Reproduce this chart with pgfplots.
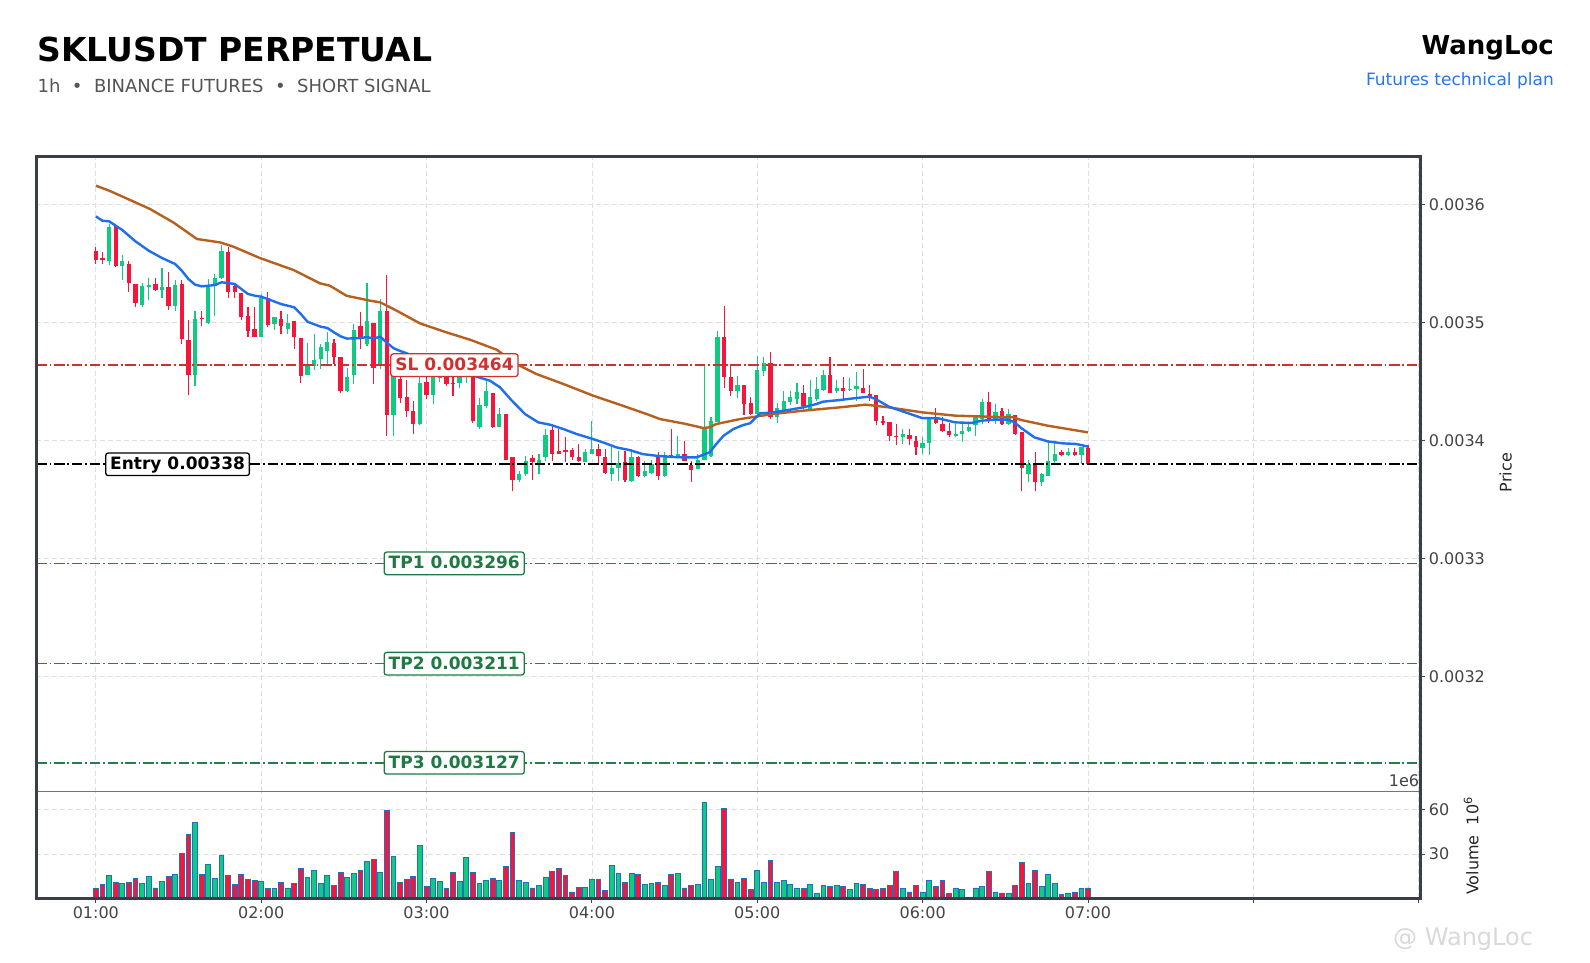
\documentclass[border=0pt]{standalone}
\usepackage{fontspec}
\setmainfont{DejaVu Sans}
\usepackage{pgfplots}
\pgfplotsset{compat=1.18}
\usepackage{pgfplotstable}

\definecolor{cup}{RGB}{14,203,129}
\definecolor{cdn}{RGB}{246,22,60}
\definecolor{vedge}{RGB}{35,110,190}
\definecolor{emafast}{RGB}{30,110,240}
\definecolor{emaslow}{RGB}{185,95,30}
\definecolor{slc}{RGB}{210,48,48}
\definecolor{tpc}{RGB}{30,122,66}
\definecolor{tpl}{RGB}{40,125,75}
\definecolor{framec}{RGB}{58,62,70}
\definecolor{tickc}{RGB}{68,68,68}
\definecolor{subc}{RGB}{85,85,85}
\definecolor{bluec}{RGB}{38,118,232}

% green (up) candles: index open high low close volume(1e6)
\pgfplotstableread{
i o h l c v
2 3552 3584 3549 3581 15.2
4 3548 3557 3536 3552 9.8
7 3515 3534 3513 3531 9.8
8 3530 3538 3519 3532 14.5
10 3528 3546 3521 3530 11.4
12 3514 3536 3510 3532 15.9
15 3456 3510 3446 3503 51.4
17 3500 3537 3499 3531 22.7
18 3531 3541 3506 3538 13.2
19 3538 3566 3537 3561 28.9
25 3488 3524 3488 3521 11.1
27 3499 3505 3494 3505 6.4
29 3495 3507 3490 3500 7.0
32 3456 3483 3456 3464 13.9
33 3463 3490 3460 3468 18.6
34 3469 3482 3461 3479 9.8
35 3476 3492 3465 3484 15.2
38 3442 3462 3441 3454 13.9
39 3456 3499 3448 3494 16.6
41 3482 3534 3480 3501 24.8
43 3465 3520 3461 3510 17.3
45 3422 3466 3404 3455 28.2
49 3414 3455 3413 3449 35.7
51 3439 3462 3431 3454 13.2
52 3453 3463 3450 3455 11.1
55 3449 3457 3445 3455 11.1
56 3454 3456 3449 3455 27.5
58 3412 3436 3410 3430 9.8
59 3429 3451 3428 3442 11.8
61 3412 3428 3412 3423 11.8
64 3367 3374 3365 3372 11.8
65 3372 3387 3370 3383 10.5
67 3380 3389 3372 3384 8.4
68 3386 3410 3383 3405 13.9
74 3382 3393 3382 3390 7.5
75 3389 3417 3389 3393 13.0
78 3372 3395 3366 3377 22.0
79 3377 3391 3366 3381 16.6
81 3366 3393 3365 3386 16.6
83 3370 3383 3369 3374 9.1
84 3373 3384 3372 3380 9.8
86 3370 3390 3369 3388 8.4
88 3386 3404 3385 3389 16.6
91 3376 3389 3376 3384 9.1
92 3384 3463 3384 3410 65.0
93 3387 3420 3386 3417 12.5
94 3416 3493 3416 3488 21.4
97 3442 3455 3436 3447 10.5
100 3423 3472 3422 3460 18.6
101 3459 3471 3455 3466 10.5
103 3420 3432 3415 3428 10.5
104 3425 3442 3424 3434 11.8
105 3433 3442 3430 3437 9.1
106 3435 3449 3431 3441 6.4
108 3427 3451 3426 3437 9.1
109 3435 3454 3434 3444 3.0
110 3443 3460 3442 3456 8.4
112 3442 3451 3440 3445 8.4
114 3443 3453 3442 3444 5.7
115 3444 3458 3434 3446 9.8
122 3403 3410 3397 3406 6.4
125 3394 3403 3389 3398 4.3
126 3398 3420 3388 3418 11.8
130 3404 3414 3403 3406 7.0
131 3406 3414 3399 3408 5.7
132 3408 3414 3407 3412 0.9
133 3413 3421 3404 3420 7.0
134 3418 3435 3414 3433 7.7
136 3417 3431 3414 3424 4.3
138 3414 3427 3413 3423 3.0
141 3372 3384 3365 3380 9.8
143 3365 3373 3362 3372 7.7
144 3370 3399 3370 3383 15.9
145 3383 3399 3381 3389 9.8
147 3388 3394 3387 3390 3.6
149 3388 3395 3380 3395 6.4
}\up

% red (down) candles
\pgfplotstableread{
i o h l c v
0 3561 3564 3550 3553 6.4
1 3555 3560 3550 3553 9.1
3 3582 3584 3547 3548 10.5
5 3550 3552 3526 3534 10.5
6 3533 3533 3513 3517 13.2
9 3533 3538 3527 3528 7.0
11 3530 3543 3511 3514 14.5
13 3533 3536 3482 3486 30.2
14 3485 3502 3439 3456 43.2
16 3504 3510 3497 3503 15.9
20 3560 3564 3521 3526 15.2
21 3531 3534 3521 3526 9.1
22 3525 3525 3502 3505 15.9
23 3506 3513 3488 3493 12.5
24 3495 3513 3488 3488 11.8
26 3521 3526 3496 3498 6.4
28 3503 3510 3490 3497 10.5
30 3501 3501 3478 3488 9.8
31 3487 3487 3449 3455 20.0
36 3483 3486 3465 3471 8.4
37 3471 3471 3440 3442 17.3
40 3497 3509 3478 3486 18.6
42 3500 3500 3448 3462 26.1
44 3510 3540 3404 3422 59.6
46 3452 3458 3432 3436 10.5
47 3437 3451 3420 3425 12.5
48 3425 3434 3406 3414 14.5
50 3450 3455 3435 3439 7.7
53 3455 3457 3446 3448 6.4
54 3449 3455 3438 3448 17.3
57 3455 3456 3415 3417 17.3
60 3440 3440 3411 3412 13.2
62 3423 3423 3384 3384 21.4
63 3386 3386 3357 3367 44.5
66 3385 3388 3367 3382 7.0
69 3409 3414 3383 3389 18.0
70 3391 3410 3389 3389 20.0
71 3392 3403 3382 3390 15.2
72 3392 3394 3384 3386 4.3
73 3386 3397 3382 3383 7.5
76 3393 3397 3380 3387 12.5
77 3386 3393 3372 3373 5.0
80 3382 3391 3365 3367 10.5
82 3386 3387 3369 3370 15.9
85 3386 3390 3367 3370 10.5
87 3388 3410 3386 3386 15.9
89 3389 3400 3383 3383 7.0
90 3379 3383 3365 3375 8.4
95 3488 3514 3445 3454 60.9
96 3454 3465 3438 3442 12.5
98 3447 3447 3422 3431 13.2
99 3432 3437 3422 3423 5.7
102 3466 3475 3418 3420 25.5
107 3440 3447 3427 3429 6.4
111 3456 3471 3440 3440 7.7
113 3445 3454 3434 3442 7.7
116 3445 3461 3440 3440 9.1
117 3439 3447 3434 3438 6.4
118 3439 3439 3413 3417 5.7
119 3417 3421 3413 3415 6.4
120 3416 3416 3400 3404 8.4
121 3404 3414 3396 3403 18.0
123 3405 3410 3396 3401 4.3
124 3400 3404 3388 3395 8.4
127 3418 3428 3414 3415 7.7
128 3414 3420 3407 3408 11.8
129 3408 3415 3403 3405 3.0
135 3433 3441 3415 3418 18.0
137 3425 3428 3413 3414 3.6
139 3422 3422 3405 3406 8.4
140 3407 3407 3357 3377 24.1
142 3380 3390 3357 3365 18.6
146 3390 3392 3387 3388 2.3
148 3390 3394 3387 3388 4.3
150 3394 3396 3380 3380 7.0
}\dn

% fast EMA (blue)
\pgfplotstableread{
i p
0 3590.1
1 3586.4
2 3585.9
4 3578.5
6 3568.9
8 3561
10 3554.8
12 3549.7
13 3544
14 3537
15 3532.2
16 3530.8
17 3531.3
18 3531.9
19 3534.2
20 3533.6
21 3532.8
22 3528.5
23 3524.3
24 3522.9
25 3522
26 3520
28 3515.8
30 3513
31 3507.3
32 3500.8
34 3496.6
35 3495.5
36 3491.8
37 3488.4
38 3486.5
40 3487
41 3487.8
42 3486.5
43 3488.2
44 3483
45 3478.4
46 3476
48 3472
50 3468
52 3464
54 3460
56 3456.5
57.1 3455
59.6 3450.8
61.1 3445.2
62.9 3433.9
64.9 3422.5
66.9 3415.5
68.7 3413.5
70.7 3409.8
72.7 3405.6
74.7 3402.2
76.7 3398.5
78.7 3394.3
80.7 3392
82.7 3388.6
84.8 3387.2
86.8 3386.3
88.8 3385.8
90.8 3385.8
92.8 3390.1
93.8 3397.1
94.9 3404.2
96.4 3409.9
97.9 3413.3
98.9 3414.7
100.4 3423.1
102.4 3424
104.9 3426.2
106.9 3428.2
108.9 3431
109.9 3433
112.4 3434.4
114.9 3436.1
116.9 3437.3
117.9 3435.3
119.9 3428.8
122.4 3424
124.9 3419.2
127.4 3418.9
129.9 3415.5
132.4 3415
133.9 3416.9
135.9 3417.8
137.9 3417.8
138.9 3415.5
139.9 3410.7
141.9 3402.8
143.9 3399.4
146.2 3397.7
148.2 3397.2
150 3395
}\emaf

% slow EMA (brown)
\pgfplotstableread{
i p
0 3616.1
2 3611.9
5.2 3603.9
8.2 3596.3
11.7 3585
15.3 3570.9
18.8 3568
20.8 3564.4
24.8 3554.8
29.9 3544.6
33.9 3533.3
35.4 3531.3
37.9 3522.8
41.5 3518.6
43 3517.2
45.5 3510.1
49 3499.4
53 3491.8
56.6 3485.5
60.6 3477.1
63.6 3464.9
66.6 3456.5
70.7 3448
75.2 3438.1
79.2 3430.5
83.3 3422.5
85.3 3418.3
88.8 3414.6
90.5 3412.5
91.8 3410.7
92.8 3411.3
93.8 3414.1
97.4 3418.3
102.4 3422.6
106.9 3425.4
112.4 3428.2
116.4 3430.5
119.9 3428.2
124.9 3424
129.9 3421.2
134.9 3420.3
138.7 3419.8
139.9 3417.5
143.9 3412.7
150 3407
}\emas

\pgfplotsset{
  panel/.style={
    scale only axis, anchor=south west, width=1384.4pt,
    xmin=-9, xmax=200.3, xtick={0,25,...,200},
    grid=major,
    grid style={line width=0.8pt, draw=black!13, dash pattern=on 5pt off 3pt},
    axis line style={line width=1pt, draw=black!55},
    tick align=outside, ytick pos=right, yticklabel pos=right,
    tick style={line width=0.9pt, draw=tickc},
    major tick length=4.7pt,
    ticklabel style={font=\fontsize{16}{16}\selectfont, text=tickc},
  },
  wick/.style={draw=none, mark=none, forget plot,
    error bars/.cd, y dir=plus, y explicit, error mark=none,
    error bar style={draw=#1, solid, line width=1.1pt}},
  body/.style={draw=none, mark=none, forget plot,
    error bars/.cd, y dir=plus, y explicit, error mark=none,
    error bar style={draw=#1, solid, line width=4.3pt}},
  lvl/.style={line width=1.6pt, dash pattern=on 10.5pt off 2.8pt on 1.7pt off 2.8pt, forget plot},
}
\tikzset{
  lbl/.style={anchor=west, fill=white, line width=1.3pt, rounded corners=2.5pt,
    inner xsep=4.5pt, inner ysep=4.3pt, text height=12.4pt, text depth=1.6pt,
    font=\bfseries\fontsize{17}{17}\selectfont},
}

\begin{document}
\begin{tikzpicture}
\path[use as bounding box, fill=white] (0,0) rectangle (1590pt,962pt);

% ---------- price panel ----------
\begin{axis}[panel, at={(36.3pt,170.3pt)}, height=635.4pt,
  ymin=3102.5, ymax=3641,
  ytick={3200,3300,3400,3500,3600},
  yticklabels={0.0032,0.0033,0.0034,0.0035,0.0036},
  xticklabels={}, xtick style={draw=none}]
\addplot[wick=cup] table[x=i, y=l, y error plus expr={\thisrow{h}-\thisrow{l}}] {\up};
\addplot[body=cup] table[x=i, y=o, y error plus expr={max(\thisrow{c}-\thisrow{o},1.2)}] {\up};
\addplot[wick=cdn] table[x=i, y=l, y error plus expr={\thisrow{h}-\thisrow{l}}] {\dn};
\addplot[body=cdn] table[x=i, y=c, y error plus expr={max(\thisrow{o}-\thisrow{c},1.2)}] {\dn};

\addplot[lvl, slc] coordinates {(-9,3464) (200.3,3464)};
\addplot[lvl, black] coordinates {(-9,3380) (200.3,3380)};
\addplot[lvl, tpl] coordinates {(-9,3296) (200.3,3296)};
\addplot[lvl, tpl] coordinates {(-9,3211) (200.3,3211)};
\addplot[lvl, tpl] coordinates {(-9,3127) (200.3,3127)};

\addplot[emaslow, line width=2.4pt, line join=round, mark=none] table[x=i, y=p] {\emas};
\addplot[emafast, line width=2.4pt, line join=round, mark=none] table[x=i, y=p] {\emaf};

\node[lbl, draw=slc, text=slc] at (axis cs:44.5,3464) {SL 0.003464};
\node[lbl, draw=black, text=black] at (axis cs:1.4,3380) {Entry 0.00338};
\node[lbl, draw=tpc, text=tpc] at (axis cs:43.5,3296) {TP1 0.003296};
\node[lbl, draw=tpc, text=tpc] at (axis cs:43.5,3211) {TP2 0.003211};
\node[lbl, draw=tpc, text=tpc] at (axis cs:43.5,3127) {TP3 0.003127};
\end{axis}

% ---------- volume panel ----------
\begin{axis}[panel, at={(36.3pt,63.7pt)}, height=106.6pt,
  ymin=0, ymax=72.2,
  ytick={30,60}, yticklabels={30,60},
  xtick pos=bottom,
  xticklabels={01:00,02:00,03:00,04:00,05:00,06:00,07:00,{},{}}]
\addplot[ybar, bar width=4.8pt, bar shift=0pt, fill=cup, draw=vedge, line width=0.9pt] table[x=i, y=v] {\up};
\addplot[ybar, bar width=4.8pt, bar shift=0pt, fill=cdn, draw=vedge, line width=0.9pt] table[x=i, y=v] {\dn};
\end{axis}

% outer frame
\draw[line width=2.6pt, framec] (36.3pt,63.7pt) rectangle (1420.7pt,805.7pt);

% texts
\node[anchor=base west, inner sep=0pt, font=\bfseries\fontsize{33}{33}\selectfont, text=black] at (37.3pt,900.3pt) {SKLUSDT PERPETUAL};
\node[anchor=base west, inner sep=0pt, font=\fontsize{18}{18}\selectfont, text=subc] at (37.5pt,869.3pt) {1h~~•~~BINANCE FUTURES~~•~~SHORT SIGNAL};
\node[anchor=base east, inner sep=0pt, font=\bfseries\fontsize{26}{26}\selectfont, text=black] at (1554pt,907pt) {WangLoc};
\node[anchor=base east, inner sep=0pt, font=\fontsize{17}{17}\selectfont, text=bluec] at (1554pt,876pt) {Futures technical plan};
\node[anchor=base east, inner sep=0pt, font=\fontsize{16}{16}\selectfont, text=tickc] at (1419.3pt,175.3pt) {1e6};
\node[rotate=90, anchor=base west, inner sep=0pt, font=\fontsize{16}{16}\selectfont, text=black!85] at (1478.3pt,67pt) {Volume~~10\textsuperscript{6}};
\node[rotate=90, anchor=base, inner sep=0pt, font=\fontsize{16}{16}\selectfont, text=black!85] at (1511.7pt,489.5pt) {Price};
\node[anchor=base west, inner sep=0pt, font=\fontsize{24}{24}\selectfont, text=black!15] at (1393pt,17pt) {@ WangLoc};
\end{tikzpicture}
\end{document}
